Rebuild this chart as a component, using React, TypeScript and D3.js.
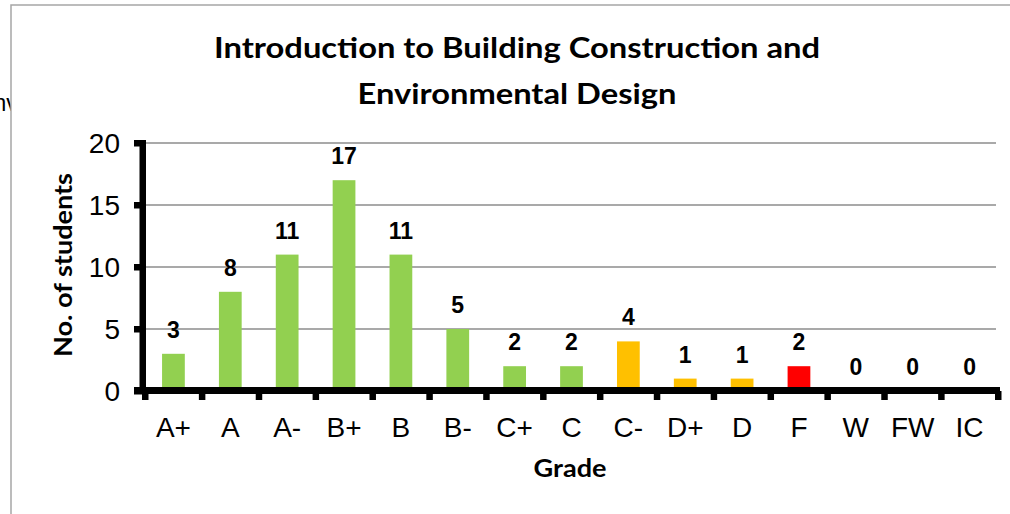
import React from "react";
import * as d3 from "d3";

const categories = ["A+", "A", "A-", "B+", "B", "B-", "C+", "C", "C-", "D+", "D", "F", "W", "FW", "IC"];
const counts = [3, 8, 11, 17, 11, 5, 2, 2, 4, 1, 1, 2, 0, 0, 0];
const barColors = ["#92D050", "#92D050", "#92D050", "#92D050", "#92D050", "#92D050", "#92D050", "#92D050", "#FFC000", "#FFC000", "#FFC000", "#FF0000", "#92D050", "#92D050", "#92D050"];
const yTicks = [0, 5, 10, 15, 20];
const titleLines = ["Introduction to Building Construction and", "Environmental Design"];

const W = 1010;
const H = 514;
const plotLeft = 145;
const plotRight = 998;
const plotTop = 143;
const plotBottom = 391;

export default function App() {
  const x = d3.scaleBand<string>().domain(categories).range([plotLeft, plotRight]).paddingInner(0.6).paddingOuter(0.3);
  const y = d3.scaleLinear().domain([0, 20]).range([plotBottom, plotTop]);
  const step = x.step();
  const boundaries = d3.range(categories.length + 1).map((i) => plotLeft + i * step);
  const arial = "'Liberation Sans', Arial, sans-serif";
  const calibri = "Lato, 'Open Sans', sans-serif";

  return (
    <svg width={W} height={H} style={{ position: "absolute", left: 0, top: 0 }}>
      <defs>
        <clipPath id="leftclip">
          <rect x={0} y={80} width={11} height={50} />
        </clipPath>
      </defs>
      <rect x={0} y={0} width={W} height={H} fill="#fff" />
      <g clipPath="url(#leftclip)">
        <text x={-6.5} y={111} fontFamily={arial} fontSize={23} fill="#000">nv</text>
      </g>
      <rect x={11} y={5} width={W} height={H} fill="#fff" stroke="#a6a6a6" strokeWidth={1.5} />

      {titleLines.map((t, i) => (
        <text key={i} x={517} y={58 + i * 45.5} textAnchor="middle" fontFamily={calibri} fontWeight="bold" fontSize={29}
          textLength={i === 0 ? 606 : 319} lengthAdjust="spacingAndGlyphs" fill="#000">{t}</text>
      ))}

      {yTicks.filter((t) => t > 0).map((t) => (
        <line key={t} x1={plotLeft} x2={plotRight - 2} y1={y(t)} y2={y(t)} stroke="#8c8c8c" strokeWidth={1.5} />
      ))}

      {categories.map((c, i) => (
        <rect key={c} x={x(c)} y={y(counts[i])} width={x.bandwidth()} height={plotBottom - y(counts[i])} fill={barColors[i]} />
      ))}

      {/* axes */}
      <rect x={139.5} y={plotTop - 3} width={6.5} height={plotBottom - plotTop + 6} fill="#000" />
      {yTicks.map((t) => (
        <rect key={t} x={134} y={y(t) - 3} width={8} height={6.5} fill="#000" />
      ))}
      <rect x={134} y={plotBottom - 4} width={plotRight + 2 - 134} height={7} fill="#000" />
      {boundaries.map((b, i) => (
        <rect key={i} x={b - 3} y={plotBottom} width={6.5} height={9} fill="#000" />
      ))}

      {yTicks.map((t) => (
        <text key={t} x={120} y={y(t) + 10} textAnchor="end" fontFamily={arial} fontSize={28} fill="#000">{t}</text>
      ))}
      {categories.map((c) => (
        <text key={c} x={(x(c) as number) + x.bandwidth() / 2} y={437} textAnchor="middle" fontFamily={arial} fontSize={28} fill="#000">{c}</text>
      ))}
      {categories.map((c, i) => (
        <text key={c} x={(x(c) as number) + x.bandwidth() / 2} y={y(counts[i]) - 16} textAnchor="middle" fontFamily={arial} fontWeight="bold" fontSize={23} fill="#000">{counts[i]}</text>
      ))}

      <text x={570} y={477} textAnchor="middle" fontFamily={calibri} fontWeight="bold" fontSize={25} textLength={73} lengthAdjust="spacingAndGlyphs" fill="#000">Grade</text>
      <text transform={`translate(72,265) rotate(-90)`} textAnchor="middle" fontFamily={calibri} fontWeight="bold" fontSize={24} textLength={184} lengthAdjust="spacingAndGlyphs" fill="#000">No. of students</text>
    </svg>
  );
}
